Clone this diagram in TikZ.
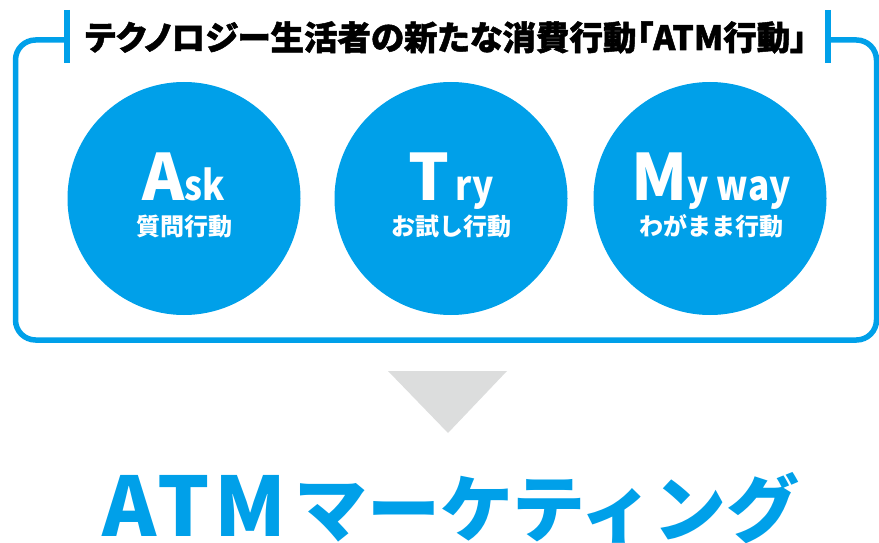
\documentclass[tikz,border=0pt]{standalone}
\usepackage{fontspec}
\usepackage{graphicx}
\newfontfamily\jp{Noto Sans CJK JP}
\newfontfamily\jptitle{Noto Sans CJK JP}[RawFeature=+palt, FakeBold=1.5]
\definecolor{atmblue}{HTML}{00A0E9}
\definecolor{arrowgray}{HTML}{DCDDDD}
\newcommand{\lowpart}[1]{\scalebox{0.86}[1]{\fontsize{41}{41}\selectfont #1}}
\tikzset{
  frameline/.style={draw=atmblue, line width=5.5pt},
  bubble/.style={circle, fill=atmblue, minimum size=233pt, inner sep=0pt},
  bigword/.style={anchor=base, text=white, inner sep=0pt, font=\jp\bfseries},
  subword/.style={anchor=base, text=white, inner sep=0pt, font=\jp\bfseries\fontsize{24}{24}\selectfont},
}
\begin{document}
\begin{tikzpicture}[x=1pt, y=-1pt]
\useasboundingbox (0,0) rectangle (879,543);
% frame
\coordinate (fl) at (67,40);
\coordinate (fr) at (828,40);
\draw[frameline, rounded corners=20pt] (fl) -- (15.5,40) -- (15.5,340) -- (876.5,340) -- (876.5,40) -- (fr);
\coordinate (tlt) at (67,10);
\coordinate (tlb) at (67,63);
\coordinate (trt) at (828,10);
\coordinate (trb) at (828,63);
\draw[frameline] (tlt) -- (tlb);
\draw[frameline] (trt) -- (trb);
% title
\node[anchor=base, inner sep=0pt] (title) at (446,50) {\resizebox{722pt}{!}{\jptitle\bfseries\fontsize{32}{32}\selectfont テクノロジー生活者の新たな消費行動「ATM行動」}};
% circles
\node[bubble] (ask) at (184,198.5) {};
\node[bubble] (try) at (451,198.5) {};
\node[bubble] (myway) at (710,198.5) {};
\node[bigword] (askw) at (184,200) {{\fontsize{64}{64}\selectfont A}\lowpart{sk}};
\node[subword] (askj) at (184,235) {質問行動};
\node[bigword] (tryw) at (451,200) {{\fontsize{64}{64}\selectfont T}\lowpart{\,r\kern1pt y}};
\node[subword] (tryj) at (451,235) {お試し行動};
\node[bigword] (myw) at (711,200) {{\fontsize{64}{64}\selectfont M}\lowpart{y way}};
\node[subword] (myj) at (711,235) {わがまま行動};
% arrow
\coordinate (ta) at (388,371);
\coordinate (tb) at (507,371);
\coordinate (tc) at (448,433);
\fill[arrowgray] (ta) -- (tb) -- (tc) -- cycle;
% bottom
\node[anchor=base, inner sep=0pt, text=atmblue, font=\jp\bfseries] (atm) at (451,536) {{\fontsize{82}{82}\selectfont A\kern1pt T\kern5pt M}\kern8pt{\fontsize{73}{73}\selectfont マーケティング}};
\end{tikzpicture}
\end{document}
